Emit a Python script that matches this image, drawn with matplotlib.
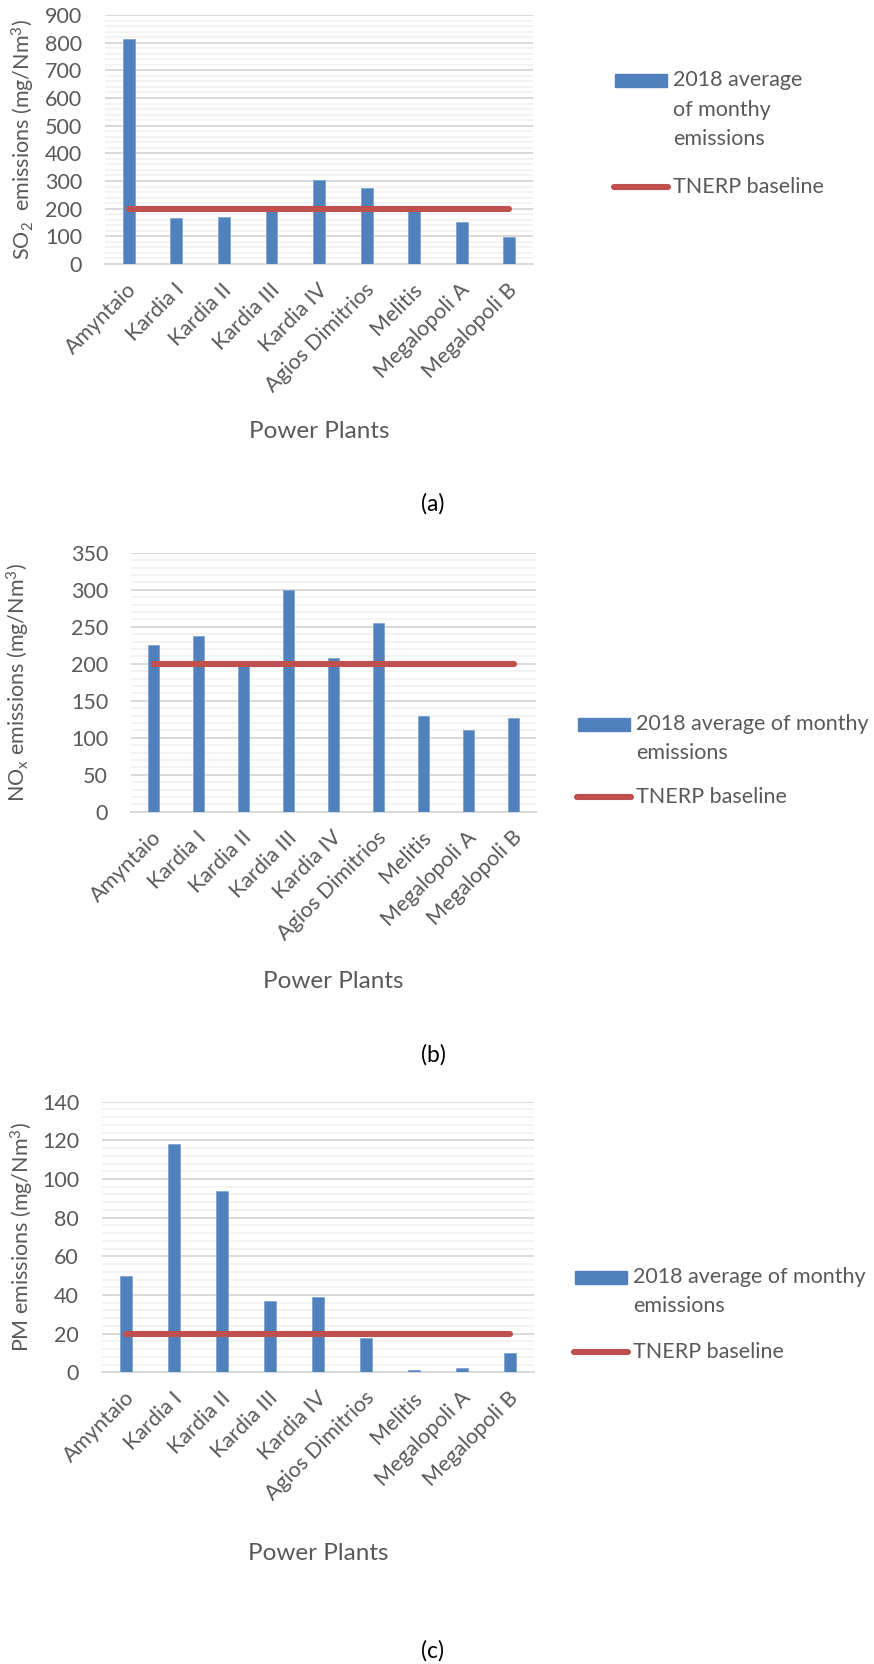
import numpy as np
import matplotlib
matplotlib.use('Agg')
import matplotlib.pyplot as plt
from matplotlib.patches import Rectangle
from matplotlib.lines import Line2D
from matplotlib.ticker import MultipleLocator
from matplotlib.transforms import ScaledTranslation

plt.rcParams['font.family'] = ['Lato', 'DejaVu Sans']
plt.rcParams['mathtext.fontset'] = 'custom'
plt.rcParams['mathtext.rm'] = 'Lato'
plt.rcParams['mathtext.it'] = 'Lato'
plt.rcParams['mathtext.default'] = 'regular'

plants = ['Amyntaio', 'Kardia I', 'Kardia II', 'Kardia III', 'Kardia IV',
          'Agios Dimitrios', 'Melitis', 'Megalopoli A', 'Megalopoli B']

so2 = [813, 167, 171, 199, 302, 273, 197, 153, 98]
nox = [225, 237, 198, 299, 208, 255, 129, 110, 127]
pm = [50, 118, 94, 37, 39, 17.5, 1, 2.4, 9.8]

so2_baseline = [200, 200, 200, 200, 200, 200, 200, 200, 200]
nox_baseline = [200, 200, 200, 200, 200, 200, 200, 200, 200]
pm_baseline = [20, 20, 20, 20, 20, 20, 20, 20, 20]

W, H = 874, 1664
BLUE = '#4F81BD'
RED = '#C0504D'
GREY = '#595959'
FS = 15.5      # ticks, y titles, legend
FS_T = 17.5    # x title

def fx(px):
    return px / W

def fy(py):
    return 1 - py / H

fig = plt.figure(figsize=(W / 100, H / 100), dpi=100)

# pixel boxes: left, right, top, bottom, plus label/legend spots
panels = [
    dict(box=(105, 533, 15, 264), vals=so2, base=so2_baseline, ymax=900, major=100, minor=20,
         ylabel='SO$_2$  emissions (mg/Nm$^3$)', ylab_x=23, xlab_y=432, cap='(a)', cap_y=504,
         leg_x=615, leg_lines=['2018 average', 'of monthy', 'emissions'], leg_y=80, red_y=187),
    dict(box=(131, 536, 552.7, 811.7), vals=nox, base=nox_baseline, ymax=350, major=50, minor=10,
         ylabel='NO$_x$ emissions (mg/Nm$^3$)', ylab_x=18, xlab_y=981, cap='(b)', cap_y=1055,
         leg_x=578, leg_lines=['2018 average of monthy', 'emissions'], leg_y=724, red_y=797),
    dict(box=(102, 534, 1101.7, 1372.3), vals=pm, base=pm_baseline, ymax=140, major=20, minor=4,
         ylabel='PM emissions (mg/Nm$^3$)', ylab_x=22, xlab_y=1553, cap='(c)', cap_y=1651,
         leg_x=575, leg_lines=['2018 average of monthy', 'emissions'], leg_y=1277, red_y=1352),
]

x = np.arange(len(plants))
shift = ScaledTranslation(0.05, -0.06, fig.dpi_scale_trans)

for p in panels:
    l, r, t, b = p['box']
    ax = fig.add_axes([fx(l), fy(b), (r - l) / W, (b - t) / H])
    ax.bar(x, p['vals'], width=0.25, color=BLUE, edgecolor='#7A9FCF', linewidth=0.5, zorder=3)
    ax.plot(x, p['base'], color=RED, lw=4.4, solid_capstyle='round', zorder=4)
    ax.set_xlim(-0.5, len(plants) - 0.5)
    ax.set_ylim(0, p['ymax'])
    ax.yaxis.set_major_locator(MultipleLocator(p['major']))
    ax.yaxis.set_minor_locator(MultipleLocator(p['minor']))
    ax.grid(which='major', axis='y', color='#D9D9D9', lw=1.4, zorder=1)
    ax.grid(which='minor', axis='y', color='#F0F0F0', lw=1.1, zorder=0)
    for s in ['top', 'right', 'left']:
        ax.spines[s].set_visible(False)
    ax.spines['bottom'].set_color('#D9D9D9')
    ax.spines['bottom'].set_linewidth(1.4)
    ax.tick_params(axis='both', which='both', length=0, colors=GREY, labelsize=FS)
    ax.tick_params(axis='y', pad=16.5)
    ax.set_xticks(x)
    ax.set_xticklabels(plants, rotation=45, ha='right', va='center', rotation_mode='anchor')
    ax.tick_params(axis='x', pad=12)
    for lab in ax.get_xticklabels():
        lab.set_transform(lab.get_transform() + shift)

    ax.set_ylabel(p['ylabel'], fontsize=FS, color=GREY, va='center')
    ax.yaxis.set_label_coords(fx(p['ylab_x']), fy((t + b) / 2), transform=fig.transFigure)
    ax.set_xlabel('Power Plants', fontsize=FS_T, color=GREY, va='center')
    ax.xaxis.set_label_coords(fx((l + r) / 2), fy(p['xlab_y']), transform=fig.transFigure)

    fig.text(fx(433), fy(p['cap_y']), p['cap'], fontsize=16.5, color='black', ha='center', va='center')

    # legend, drawn by hand to keep Excel's layout
    lx = p['leg_x']
    fig.add_artist(Rectangle((fx(lx), fy(p['leg_y'] + 6.5)), 52 / W, 13 / H,
                             transform=fig.transFigure, color=BLUE))
    for i, line in enumerate(p['leg_lines']):
        fig.text(fx(lx + 58), fy(p['leg_y'] + 29.5 * i), line, fontsize=FS, color=GREY,
                 ha='left', va='center')
    fig.add_artist(Line2D([fx(lx - 1), fx(lx + 53)], [fy(p['red_y'])] * 2,
                          transform=fig.transFigure, color=RED, lw=4.4, solid_capstyle='round'))
    fig.text(fx(lx + 58), fy(p['red_y']), 'TNERP baseline', fontsize=FS, color=GREY,
             ha='left', va='center')

fig.savefig('out.png', dpi=100, facecolor='white')
